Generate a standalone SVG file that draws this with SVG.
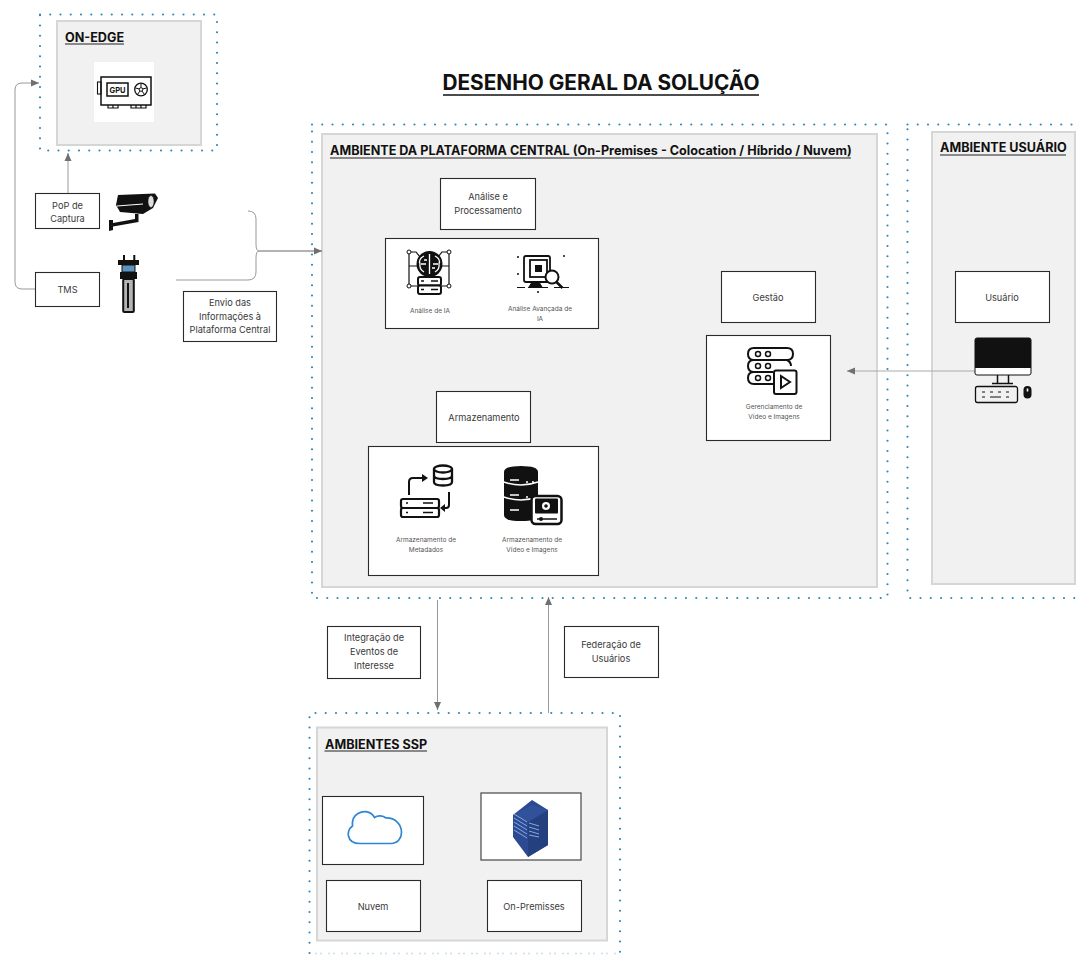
<svg xmlns="http://www.w3.org/2000/svg" width="1079" height="956" viewBox="0 0 1079 956">
<style>
text{font-family:Inter,"Liberation Sans",sans-serif;fill:#3a3a3a;text-anchor:middle}
.t{font-size:9.2px}
.s{font-size:6.5px;fill:#555}
.h{font-size:12.6px;font-weight:700;fill:#111;text-anchor:start}
.dot{fill:none;stroke:#3488b8;stroke-width:2.2;stroke-linecap:round;stroke-dasharray:0 10.25}
.panel{fill:#f1f1f1;stroke:#d6d6d6;stroke-width:2}
.box{fill:#fff;stroke:#2a2a2a;stroke-width:1.1}
.ul{stroke:#222;stroke-width:1.2}
.c{fill:none;stroke:#999;stroke-width:1}
.f{fill:#111}
</style>
<defs>
<marker id="a" markerWidth="9" markerHeight="8" refX="8" refY="4" orient="auto" markerUnits="userSpaceOnUse"><path d="M0 0.5L8 4L0 7.5Z" fill="#707070"/></marker>
</defs>
<rect width="1079" height="956" fill="#fff"/>
<text x="601" y="90" style="font-size:20.800px;font-weight:700;fill:#111">DESENHO GERAL DA SOLUÇÃO</text>
<line x1="443" y1="95" x2="759" y2="95" stroke="#111" stroke-width="1.500"/>

<g id="on-edge">
<rect class="dot" x="40" y="14.500" width="177" height="136"/>
<rect class="panel" x="57" y="21" width="144" height="124"/>
<text class="h" x="65" y="42">ON-EDGE</text><line class="ul" x1="65" y1="44" x2="124" y2="44"/>
<rect x="94" y="62" width="60" height="60" fill="#fff"/>
<rect x="101" y="77" width="50" height="28" fill="none" stroke="#111" stroke-width="1.500"/>
<rect x="97.500" y="82" width="3.500" height="12" fill="none" stroke="#111" stroke-width="1.100"/>
<rect x="107" y="83" width="21" height="13" fill="none" stroke="#111" stroke-width="1.500"/>
<circle cx="141" cy="89.500" r="6.300" fill="none" stroke="#111" stroke-width="1.300"/>
<circle cx="141" cy="89.500" r="1.800" fill="none" stroke="#111" stroke-width="1"/>
<path d="M141 83.500v4M135.500 88l4 1M146.500 88l-4 1M137.500 94.500l2.500-3.500M144.500 94.500l-2.500-3.500" stroke="#111" stroke-width="1"/>
<path d="M108 105v3h10v-3M113 105v3M131 105v3h15v-3M136 105v3M141 105v3" fill="none" stroke="#111" stroke-width="1.200"/>
<text x="117.500" y="92.500" style="font-size:7.500px;font-weight:700;fill:#111">GPU</text>
</g>

<g id="central">
<rect class="dot" x="312" y="124.500" width="575.500" height="473.500"/>
<rect class="panel" x="322" y="134" width="555" height="453"/>
<text class="h" x="330" y="155">AMBIENTE DA PLATAFORMA CENTRAL (On-Premises - Colocation / Híbrido / Nuvem)</text>
<line class="ul" x1="330" y1="158" x2="851" y2="158"/>
</g>

<g id="usuario-env">
<rect class="dot" x="907.500" y="124.500" width="190" height="473.500"/>
<rect class="panel" x="932" y="132" width="143" height="452"/>
<text class="h" x="940" y="152">AMBIENTE USUÁRIO</text>
<line class="ul" x1="940" y1="155" x2="1066" y2="155"/>
</g>

<g id="ssp">
<path class="dot" d="M309.500 953V713H620V953"/>
<path d="M316 953.500H620" fill="none" stroke="#c9dfec" stroke-width="2" stroke-linecap="round" stroke-dasharray="0 5 0 8"/>
<rect class="panel" x="317" y="727.500" width="290" height="213"/>
<text class="h" x="325" y="749">AMBIENTES SSP</text>
<line class="ul" x1="324.500" y1="751" x2="427" y2="751"/>
</g>

<g id="connectors">
<path class="c" d="M35 289H22Q15 289 15 282V90Q15 83 22 83H39" marker-end="url(#a)"/>
<path class="c" d="M68 193V153" marker-end="url(#a)"/>
<path class="c" d="M176 280H248Q256 280 256 272V258Q256 251 259 251Q256 251 256 244V219Q256 211 248 211" stroke="#bbb"/>
<path class="c" d="M259 251H322" marker-end="url(#a)" style="stroke:#666"/>
<path class="c" d="M975 371H847" marker-end="url(#a)" style="stroke:#aaa"/>
<path class="c" d="M437.500 600V710" marker-end="url(#a)"/>
<path class="c" d="M548.500 713V597" marker-end="url(#a)"/>
</g>

<g id="pop"><rect class="box" x="35.500" y="193.500" width="64" height="35"/><text class="t" x="67.500" y="209">PoP de</text><text class="t" x="67.500" y="222">Captura</text></g>
<g id="camera">
<path class="f" d="M118 195L155 193.500L158 198L153 208L143 214L120 212L116 205Z"/>
<path d="M117 206L143 204" stroke="#fff" stroke-width="1"/>
<ellipse cx="151" cy="201.500" rx="3" ry="6" fill="#ddd" stroke="#111" stroke-width=".5"/>
<path class="f" d="M135 214H138.500V222L113 226.500V230L109 231V220L113 220V223L135 219Z"/>
</g>
<g id="tms"><rect class="box" x="35.500" y="272.500" width="64" height="34"/><text class="t" x="67.500" y="293">TMS</text></g>
<g id="sensor">
<path d="M124 255v6M134.300 255v6" stroke="#111" stroke-width="2"/>
<rect x="118" y="260" width="21" height="5" fill="#111"/>
<rect x="122" y="265" width="13" height="7" fill="#5f93bf" stroke="#111" stroke-width="1"/>
<rect x="120" y="272" width="17" height="7" fill="#111"/>
<rect x="123.200" y="279" width="10.600" height="33" rx="1" fill="#b4b4b4" stroke="#111" stroke-width="2"/>
<rect x="127" y="283" width="2" height="25" fill="#111"/>
</g>
<g id="envio"><rect class="box" x="183.500" y="291.500" width="93" height="50"/><text class="t" x="230" y="306">Envio das</text><text class="t" x="230" y="320">Informações à</text><text class="t" x="230" y="333">Plataforma Central</text></g>

<g id="analise-title"><rect class="box" x="440.500" y="178.500" width="95" height="51"/><text class="t" x="488" y="200">Análise e</text><text class="t" x="488" y="214">Processamento</text></g>
<g id="analise">
<rect class="box" x="385.500" y="238.500" width="213" height="90"/>
<path d="M409 252h7l4 5M449 252h-7l-4 5M409 252V286M449 252V286M409 286H419M449 286H439M409 266H417M449 266H441" fill="none" stroke="#111" stroke-width="1.200"/>
<circle cx="429.500" cy="264" r="13" fill="#111"/>
<path d="M429.500 254v20M424 256q-6 3-4 8q-1 5 4 8M435 256q6 3 4 8q1 5-4 8M421 264h5M438 264h-5M424 260h3M435 268h-3" fill="none" stroke="#fff" stroke-width="1.300"/>
<rect x="418" y="277" width="23" height="8.500" rx="2" fill="#fff" stroke="#111" stroke-width="2"/>
<rect x="418" y="285.500" width="23" height="8.500" rx="2" fill="#fff" stroke="#111" stroke-width="2"/>
<path d="M421 281h3M431 281h7M421 289.500h3M431 289.500h7" stroke="#111" stroke-width="1.500"/>
<circle cx="409" cy="252" r="2" fill="#fff" stroke="#111"/><circle cx="449" cy="252" r="2" fill="#fff" stroke="#111"/><circle cx="409" cy="286" r="2" fill="#fff" stroke="#111"/><circle cx="449" cy="286" r="2" fill="#fff" stroke="#111"/>
<text class="s" x="430" y="313">Análise de IA</text>
<rect x="524" y="256" width="26" height="26" rx="2" fill="#fff" stroke="#111" stroke-width="1.800"/>
<rect x="530" y="260" width="17" height="17" fill="#fff" stroke="#111" stroke-width="1.800"/>
<rect x="535" y="265" width="7" height="7" fill="#111"/>
<path d="M532 282l-3 5h13l-3-5ZM517 287.500h8M528 287.500h20M554 287.500h15" fill="#111" stroke="#111" stroke-width="1"/>
<circle cx="552" cy="277" r="6.500" fill="#fff" stroke="#111" stroke-width="2"/>
<path d="M556.500 282l6 6" stroke="#111" stroke-width="2.500"/>
<path d="M517 257h2M517 274h2M563 256h2M538 291v2" stroke="#111" stroke-width="1.500"/>
<text class="s" x="540" y="311">Análise Avançada de</text><text class="s" x="540" y="321">IA</text>
</g>

<g id="armazen-title"><rect class="box" x="436.500" y="391.500" width="94" height="51"/><text class="t" x="484" y="421">Armazenamento</text></g>
<g id="armazen">
<rect class="box" x="368.500" y="446.500" width="230" height="129"/>
<ellipse cx="443" cy="469" rx="9" ry="3.500" fill="#fff" stroke="#111" stroke-width="2.300"/>
<path d="M434 469v13q0 3.500 9 3.500t9-3.500v-13M434 475.500q0 3.500 9 3.500t9-3.500" fill="none" stroke="#111" stroke-width="2.300"/>
<rect x="401" y="499" width="38" height="9" rx="2" fill="none" stroke="#111" stroke-width="2.200"/>
<rect x="401" y="508" width="38" height="9" rx="2" fill="none" stroke="#111" stroke-width="2.200"/>
<path d="M406 503h2M423 503h10M406 512.500h2M423 512.500h10" stroke="#111" stroke-width="1.600"/>
<path d="M409 495v-13q0-4 4-4h10M449 492v13q0 3-3 3h-2" fill="none" stroke="#111" stroke-width="2"/>
<path d="M422 474l6 4-6 4ZM445 504v8l-5-4Z" fill="#111"/>
<text class="s" x="426" y="542">Armazenamento de</text><text class="s" x="426" y="552">Metadados</text>
<path class="f" d="M504 472q0-6 17-6t17 6v43q0 6-17 6t-17-6Z"/>
<path d="M504 482q17 6 34 0M504 497q17 6 34 0" fill="none" stroke="#fff" stroke-width="1.500"/>
<path d="M510 480h9M510 495h9M510 510h9M526 482h2M532 482h2M526 497h2" stroke="#fff" stroke-width="1.500"/>
<rect x="531.500" y="496" width="30" height="28" rx="4" fill="#fff" stroke="#111" stroke-width="2.500"/>
<rect x="535" y="498.500" width="23" height="15" rx="1" fill="#111"/>
<circle cx="546" cy="506" r="4" fill="#fff"/><circle cx="546" cy="506" r="1.800" fill="#111"/>
<path d="M537 519h20" stroke="#111" stroke-width="1.500"/><circle cx="541" cy="519" r="2" fill="#111"/>
<text class="s" x="532" y="542">Armazenamento de</text><text class="s" x="532" y="552">Vídeo e Imagens</text>
</g>

<g id="gestao-title"><rect class="box" x="721.500" y="271.500" width="94" height="51"/><text class="t" x="768" y="301">Gestão</text></g>
<g id="gestao">
<rect class="box" x="706.500" y="335.500" width="124" height="105"/>
<path d="M754 348H787Q793 348 793 354T787 360H754Q748 360 748 354T754 348ZM754 360Q748 360 748 366T754 372H773M787 360Q791 362 791 366M754 372Q748 372 748 378T754 384H773" fill="none" stroke="#111" stroke-width="2"/>
<circle cx="758" cy="354" r="2.500" fill="none" stroke="#111" stroke-width="1.500"/><circle cx="768" cy="354" r="2.500" fill="none" stroke="#111" stroke-width="1.500"/>
<circle cx="758" cy="366" r="2.500" fill="none" stroke="#111" stroke-width="1.500"/><circle cx="768" cy="366" r="2.500" fill="none" stroke="#111" stroke-width="1.500"/>
<circle cx="758" cy="378" r="2.500" fill="none" stroke="#111" stroke-width="1.500"/><circle cx="768" cy="378" r="2.500" fill="none" stroke="#111" stroke-width="1.500"/>
<rect x="774" y="370.500" width="22.500" height="23.500" rx="2" fill="#fff" stroke="#111" stroke-width="2"/>
<path d="M781 376l9 6-9 6Z" fill="none" stroke="#111" stroke-width="2"/>
<text class="s" x="774" y="409">Gerenciamento de</text><text class="s" x="774" y="419">Vídeo e Imagens</text>
</g>

<g id="usuario"><rect class="box" x="955.500" y="271.500" width="94" height="51"/><text class="t" x="1002" y="301">Usuário</text></g>
<g id="computer">
<rect x="975" y="338" width="56" height="37" rx="2" fill="#fff" stroke="#111" stroke-width="1"/>
<path class="f" d="M975 368V340q0-2 2-2h52q2 0 2 2v28Z"/>
<path d="M997.500 375v8.500h11v-8.500M992 383.500h21" fill="none" stroke="#111" stroke-width="1.500"/>
<rect x="975.500" y="386.500" width="42" height="16" rx="2" fill="none" stroke="#111" stroke-width="1.300"/>
<path d="M982 392h3M990 392h3M998 392h3M1006 392h3M982 397h3M990 397h11M1006 397h3" stroke="#111"/>
<rect x="1023.500" y="386" width="8" height="12.500" rx="4" fill="#111"/><rect x="1026.700" y="388.500" width="1.600" height="3" fill="#fff"/>
</g>

<g id="integracao"><rect class="box" x="327.500" y="626.500" width="93" height="52"/><text class="t" x="374" y="641">Integração de</text><text class="t" x="374" y="655">Eventos de</text><text class="t" x="374" y="669">Interesse</text></g>
<g id="federacao"><rect class="box" x="564.500" y="626.500" width="94" height="51"/><text class="t" x="611" y="648">Federação de</text><text class="t" x="611" y="662">Usuários</text></g>

<g id="nuvem-icon"><rect class="box" x="322.500" y="796.500" width="101" height="68"/>
<path d="M360 843.500H391C398 843.500 401.500 838 401.500 832.500C401.500 824 394.500 817.500 386 818C383 815.500 378 815 374.500 817.500C371 811.500 364 810 358 813.500C353.500 816 352 821 352.500 826C348 829 348 834 348.500 836C349.500 841 354 843.500 360 843.500Z" fill="none" stroke="#2f86d6" stroke-width="1.700"/></g>
<g id="onprem-icon"><rect x="481" y="793" width="100" height="67" fill="#fff" stroke="#555" stroke-width="1.300"/>
<path d="M513 815L532 800L548 810V845L528 857L513 837Z" fill="#2c4a92"/>
<path d="M528 822L548 810V845L528 857Z" fill="#24407f"/>
<path d="M513 815L532 805L548 810L528 822Z" fill="#31519b"/>
<path d="M514 814l13 8M514 818l13 8M514 822l13 8M514 826l13 8M514 830l13 8M529 823l10 3M529 827l10 3M529 831l10 3M529 835l10 2" stroke="#8fb4ea" stroke-width=".9"/>
</g>
<g id="nuvem"><rect class="box" x="326.500" y="880.500" width="94" height="51"/><text class="t" x="373" y="910">Nuvem</text></g>
<g id="onprem"><rect class="box" x="487.500" y="880.500" width="94" height="51"/><text class="t" x="534" y="910">On-Premisses</text></g>
</svg>
